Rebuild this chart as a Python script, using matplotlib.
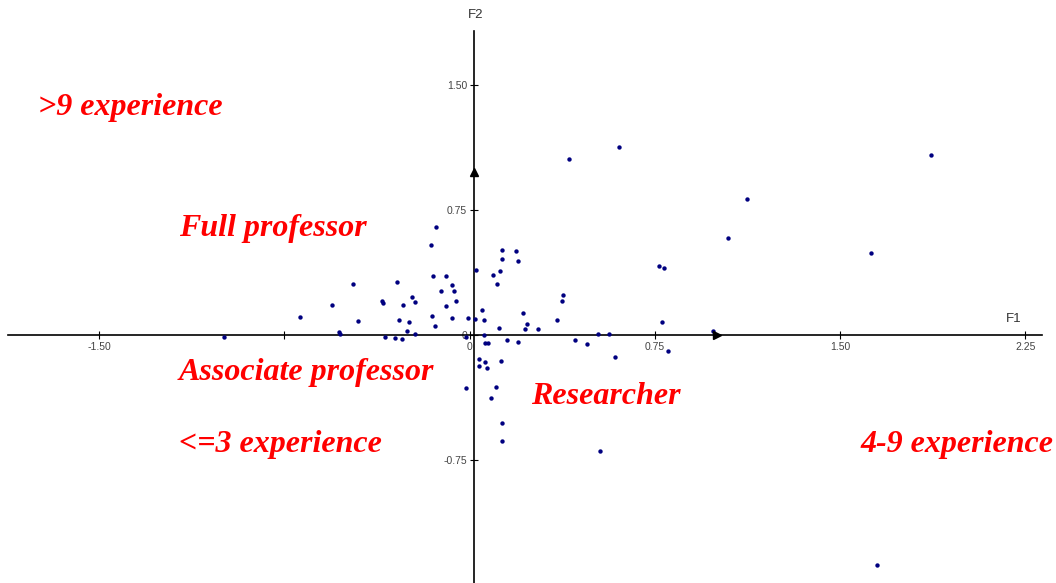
import matplotlib.pyplot as plt

# factor scores
f1 = [-0.993, -0.687, -0.555, -0.530, -0.526, -0.473, -0.451, -0.355, -0.350, -0.343,
      -0.294, -0.287, -0.302, -0.274, -0.268, -0.254, -0.244, -0.233, -0.222, -0.222,
      -0.157, -0.137, -0.147, -0.151, -0.140, -0.114, -0.094, -0.094, -0.072, -0.064,
      -0.056, -0.072, -0.014, -0.006, 0.025, 0.022, 0.049, 0.057, 0.057, 0.040,
      0.063, 0.076, 0.094, 0.111, 0.122, 0.130, 0.133, 0.118, 0.126, 0.152,
      0.187, 0.194, 0.215, 0.233, 0.226, 0.194, 0.276, 0.354, 0.426, 0.477,
      0.520, 0.564, 0.588, 0.040, 0.062, 0.071, -0.014, 0.107, 0.086, 0.133,
      0.133, 0.528, 0.403, 0.605, 1.125, 1.047, 0.767, 0.786, 0.380, 0.373,
      0.778, 0.804, 0.986, 1.867, 1.626, 1.651]
f2 = [-0.012, 0.110, 0.178, 0.018, 0.006, 0.306, 0.082, 0.204, 0.190, -0.010,
      0.318, 0.088, -0.016, -0.026, 0.180, 0.026, 0.076, 0.226, 0.196, 0.006,
      0.542, 0.650, 0.352, 0.116, 0.054, 0.266, 0.356, 0.174, 0.302, 0.266,
      0.202, 0.100, -0.010, 0.104, 0.392, 0.094, 0.150, 0.088, 0.000, -0.142,
      -0.046, -0.046, 0.358, 0.306, 0.386, 0.512, 0.454, 0.042, -0.154, -0.028,
      0.506, 0.444, 0.134, 0.066, 0.036, -0.044, 0.036, 0.088, -0.028, -0.056,
      0.006, 0.006, -0.130, -0.188, -0.164, -0.200, -0.320, -0.314, -0.378, -0.526,
      -0.634, -0.694, 1.056, 1.126, 0.816, 0.582, 0.416, 0.404, 0.242, 0.202,
      0.076, -0.096, 0.026, 1.080, 0.490, -1.382]

xticks = [-1.50, -0.75, 0, 0.75, 1.50, 2.25]
xtick_labels = ['-1.50', '', '0', '0.75', '1.50', '2.25']
yticks = [-0.75, 0, 0.75, 1.50]
ytick_labels = ['-0.75', '0', '0.75', '1.50']

# quadrant labels: text, x px, baseline y px
labels = ['>9 experience', 'Full professor', 'Associate professor',
          'Researcher', '<=3 experience', '4-9 experience']
label_x = [38, 179, 179, 531, 179, 860]
label_y = [115, 236, 380, 404, 452, 452]

W, H = 1056, 583

fig = plt.figure(figsize=(W / 100, H / 100), dpi=100)
ax = fig.add_axes([0, 0, 1, 1])
ax.set_xlim(-1.901, 2.374)
ax.set_ylim(-1.488, 2.010)

for s in ['top', 'right']:
    ax.spines[s].set_visible(False)
ax.spines['bottom'].set_position(('data', 0))
ax.spines['left'].set_position(('data', 0.018))
ax.spines['bottom'].set_bounds(-1.868, 2.318)
ax.spines['left'].set_bounds(-1.488, 1.824)
for s in ['bottom', 'left']:
    ax.spines[s].set_linewidth(1.2)

ax.set_xticks(xticks)
ax.set_xticklabels(xtick_labels)
ax.set_yticks(yticks)
ax.set_yticklabels(ytick_labels)
ax.tick_params(direction='inout', length=6, width=0.8, labelsize=7.5,
               labelcolor='#444444', pad=2)
for t in ax.get_xticklabels() + ax.get_yticklabels():
    t.set_family('Liberation Sans')

ax.scatter(f1, f2, s=10, color='#000080', linewidths=0, zorder=3)

# unit vector arrows
ax.plot([1.0], [0], marker='>', color='k', markersize=6, zorder=4)
ax.plot([0.018], [0.978], marker='^', color='k', markersize=6, zorder=4)

ax.text(476 / W, 1 - 15 / H, 'F2', transform=ax.transAxes, ha='center', va='center',
        fontsize=9.5, color='#333333', family='Liberation Sans')
ax.text(1014 / W, 1 - 319 / H, 'F1', transform=ax.transAxes, ha='center', va='center',
        fontsize=9.5, color='#333333', family='Liberation Sans')

for txt, lx, ly in zip(labels, label_x, label_y):
    ax.text(lx / W, 1 - ly / H, txt, transform=ax.transAxes, ha='left', va='baseline',
            fontsize=23, color='red', family='Liberation Serif',
            fontweight='bold', fontstyle='italic')

plt.savefig('out.png', dpi=100)
